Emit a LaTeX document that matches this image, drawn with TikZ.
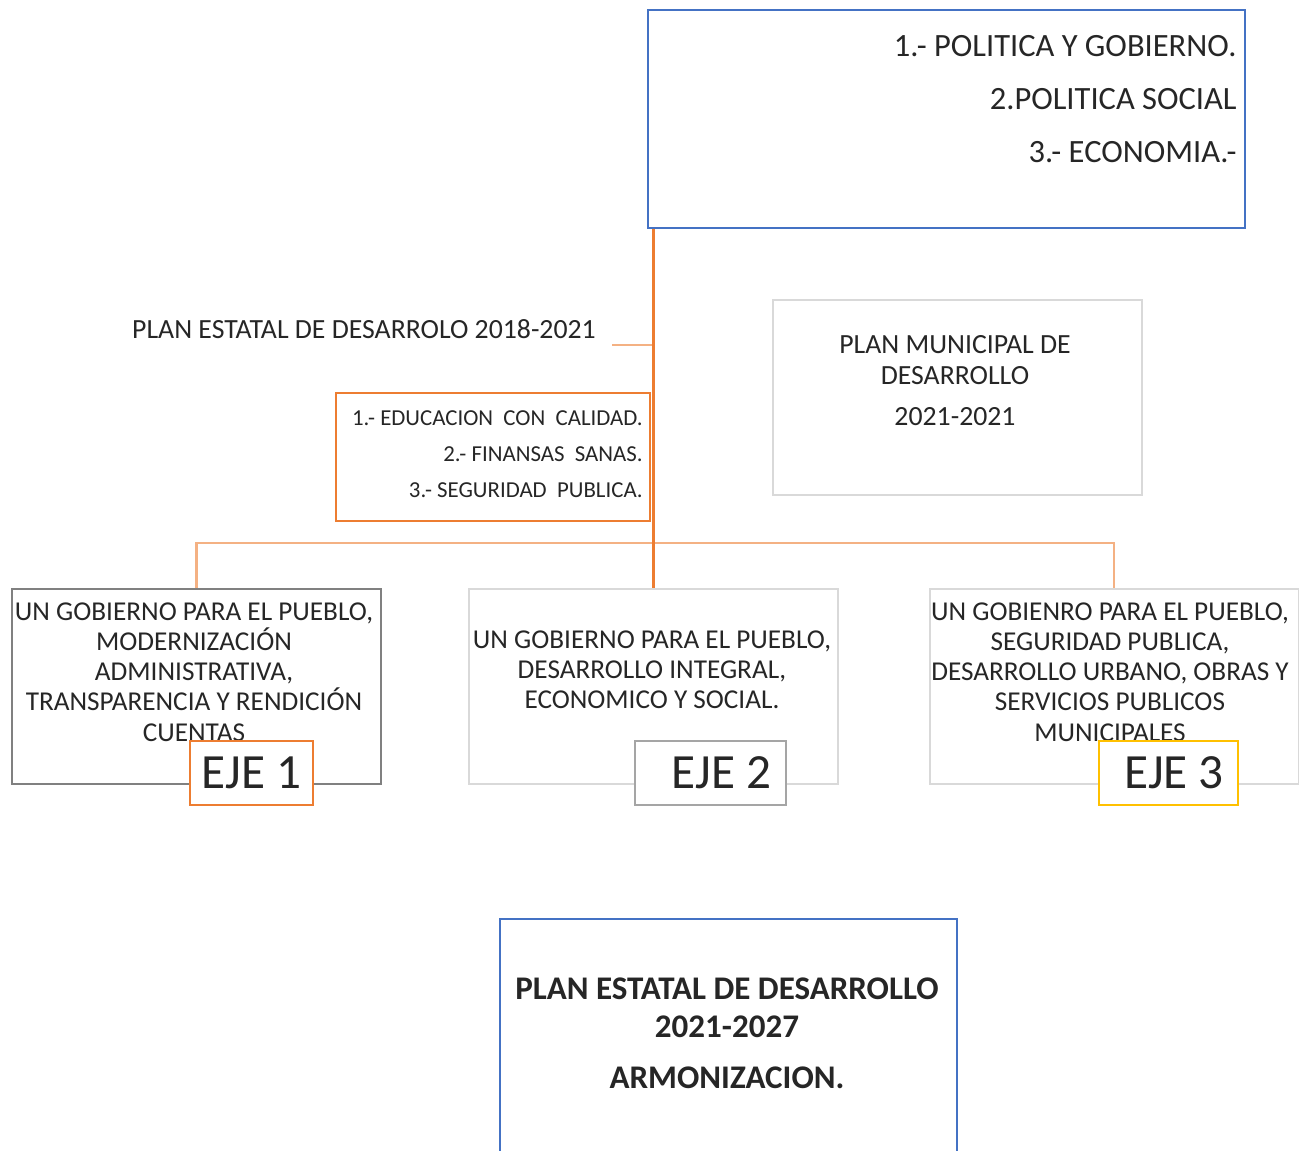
\documentclass[tikz,border=0pt]{standalone}
\usepackage{fontspec}
\setmainfont{Carlito}

\definecolor{azul}{HTML}{4472C4}
\definecolor{naranja}{HTML}{ED7D31}
\definecolor{naranjaclaro}{HTML}{F4B183}
\definecolor{gris}{HTML}{808080}
\definecolor{grisclaro}{HTML}{D9D9D9}
\definecolor{grismedio}{HTML}{A5A5A5}
\definecolor{amarillo}{HTML}{FFC000}

\begin{document}
\begin{tikzpicture}[x=0.02cm,y=-0.02cm,
  caja/.style={draw, line width=1.1pt, inner sep=0pt},
  ejecaja/.style={caja, fill=white, minimum height=1.28cm,
    font=\fontsize{28}{28}\selectfont, text=black!85},
  eje/.style={caja, minimum width=7.38cm, minimum height=3.9cm},
  texto/.style={align=center, font=\fontsize{15.5}{17.2}\selectfont, text=black!85},
  lista/.style={align=right, anchor=east, inner sep=0pt, text=black!85},
  enlace/.style={line width=1.6pt}]
\useasboundingbox (0,0) rectangle (1301,1150);

% plan nacional
\node[caja, draw=azul, minimum width=11.94cm, minimum height=4.36cm] (PND) at (946.5,119) {};
\node[lista, font=\fontsize{18.5}{30}\selectfont] (PNDt) at (1237,99)
{1.- POLITICA Y GOBIERNO.\\2.POLITICA SOCIAL\\3.- ECONOMIA.-};

% plan estatal 2018-2021
\node[texto, font=\fontsize{15.8}{17.2}\selectfont] (PED) at (364,329) {PLAN ESTATAL DE DESARROLO 2018-2021};
\node[caja, draw=naranja, minimum width=6.28cm, minimum height=2.56cm] (PEDc) at (493,457) {};
\node[lista, font=\fontsize{13}{20.5}\selectfont] (PEDt) at (643,454)
{1.-\ EDUCACION\ \ CON\ \ CALIDAD.\\2.-\ FINANSAS\ \ SANAS.\\3.-\ SEGURIDAD\ \ PUBLICA.};

% plan municipal
\node[caja, draw=grisclaro, minimum width=7.38cm, minimum height=3.9cm] (PMD) at (957.5,397.5) {};
\node[texto, font=\fontsize{15.8}{17.6}\selectfont] (PMDt) at (955,381) {PLAN MUNICIPAL DE\\DESARROLLO\\[0.2cm]2021-2021};

% ejes
\node[eje, draw=gris] (E1) at (196.5,686.5) {};
\node[eje, draw=grisclaro] (E2) at (653.5,686.5) {};
\node[eje, draw=grisclaro] (E3) at (1114,686.5) {};
\node[texto] (E1t) at (194,672)
{UN GOBIERNO PARA EL PUEBLO,\\MODERNIZACIÓN\\ADMINISTRATIVA,\\TRANSPARENCIA Y RENDICIÓN\\CUENTAS};
\node[texto] (E2t) at (652,670)
{UN GOBIERNO PARA EL PUEBLO,\\DESARROLLO INTEGRAL,\\ECONOMICO Y SOCIAL.};
\node[texto] (E3t) at (1110,672)
{UN GOBIENRO PARA EL PUEBLO,\\SEGURIDAD PUBLICA,\\DESARROLLO URBANO, OBRAS Y\\SERVICIOS PUBLICOS\\MUNICIPALES};

\node[ejecaja, draw=naranja, minimum width=2.46cm] (EJ1) at (251.5,773) {EJE 1};
\node[ejecaja, draw=grismedio, minimum width=3.02cm] (EJ2) at (710.5,773) {\hspace*{0.44cm}EJE 2};
\node[ejecaja, draw=amarillo, minimum width=2.78cm] (EJ3) at (1168.5,773) {\hspace*{0.22cm}EJE 3};

% plan estatal 2021-2027
\node[caja, draw=azul, minimum width=9.14cm, minimum height=4.82cm] (PEA) at (728.5,1039.5) {};
\node[align=center, font=\bfseries\fontsize{18.8}{22}\selectfont, text=black!85] (PEAt) at (727,1033)
{PLAN ESTATAL DE DESARROLLO\\2021-2027\\[0.24cm]ARMONIZACION.};

% conectores
\coordinate (BUS) at (654,543);
\coordinate (PEDr) at (612,345);
\draw[enlace, naranjaclaro] (E1.north) |- (BUS) -| (E3.north);
\draw[enlace, naranjaclaro] (PEDr) -- (PEDr -| E2.north);
\draw[enlace, naranja] (PND.south -| E2.north) -- (E2.north);
\end{tikzpicture}
\end{document}
